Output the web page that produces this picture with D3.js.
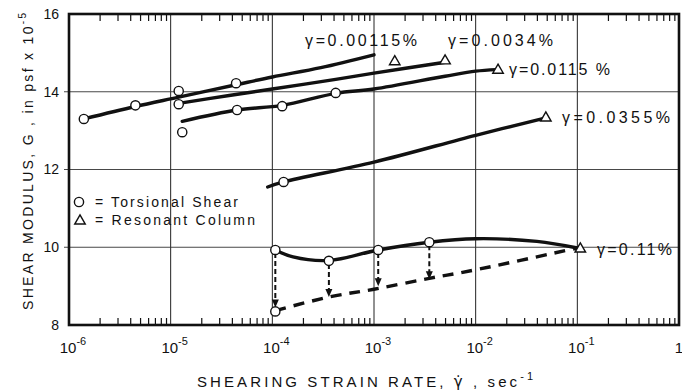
<!DOCTYPE html>
<html>
<head>
<meta charset="utf-8">
<script src="https://cdn.jsdelivr.net/npm/d3@7"></script>
<style>
  body { margin: 0; background: #fff; }
  svg { display: block; }
  text { font-family: "Liberation Sans", Arial, sans-serif; fill: #111; }
</style>
</head>
<body>
<div id="chart"></div>
<script>
// decade ticks on the strain-rate axis
var xTicks = [1e-6, 1e-5, 1e-4, 1e-3, 1e-2, 1e-1, 1];
var xTickExp = ["-6", "-5", "-4", "-3", "-2", "-1", ""];
var yTicks = [8, 10, 12, 14, 16];
var yGrid = [10, 12, 14];

// gamma = 0.00115 %
var curve1 = [[1.4e-6, 13.3], [4.5e-6, 13.62], [1.2e-5, 13.86], [4.4e-5, 14.18], [1e-4, 14.38], [3e-4, 14.62], [1e-3, 14.95]];
var torsion1 = [[1.4e-6, 13.3], [4.5e-6, 13.65], [1.2e-5, 14.02], [4.4e-5, 14.22]];
var resonant1 = [[1.6e-3, 14.8]];

// gamma = 0.0034 %
var curve2 = [[1.2e-5, 13.7], [3.9e-5, 13.91], [1e-4, 14.07], [4.2e-4, 14.32], [1e-3, 14.48], [5e-3, 14.76]];
var torsion2 = [[1.2e-5, 13.68]];
var resonant2 = [[5e-3, 14.82]];

// gamma = 0.0115 %
var curve3 = [[1.3e-5, 13.24], [4.5e-5, 13.53], [1.25e-4, 13.65], [4.2e-4, 13.96], [1e-3, 14.07], [5e-3, 14.4], [1e-2, 14.53], [1.6e-2, 14.57]];
var torsion3 = [[1.3e-5, 12.96], [4.5e-5, 13.53], [1.25e-4, 13.63], [4.2e-4, 13.97]];
var resonant3 = [[1.66e-2, 14.58]];

// gamma = 0.0355 %
var curve4 = [[9e-5, 11.55], [1.29e-4, 11.68], [1e-3, 12.19], [1e-2, 12.88], [4.9e-2, 13.33]];
var torsion4 = [[1.29e-4, 11.68]];
var resonant4 = [[4.9e-2, 13.35]];

// gamma = 0.11 %
var curve5 = [[1.07e-4, 9.93], [1.6e-4, 9.75], [3.6e-4, 9.66], [1.1e-3, 9.93], [3.5e-3, 10.13], [1e-2, 10.22], [4e-2, 10.15], [1e-1, 9.98]];
var torsion5 = [[1.07e-4, 9.93], [3.6e-4, 9.65], [1.1e-3, 9.93], [3.5e-3, 10.13], [1.07e-4, 8.35]];
var resonant5 = [[1.07e-1, 9.98]];
var dashed5 = [[1.07e-4, 8.37], [3.6e-4, 8.72], [1e-3, 8.92], [3.5e-3, 9.2], [1e-2, 9.42], [1e-1, 9.98]];
// vertical arrows: rate, from G, to G
var arrows5 = [[1.07e-4, 9.85, 8.45], [3.6e-4, 9.57, 8.72], [1.1e-3, 9.85, 9.0], [3.5e-3, 10.05, 9.18]];

var labels = [
  { text: "γ=0.00115%", x: 305, y: 46, w: 112 },
  { text: "γ=0.0034%", x: 448, y: 46, w: 105 },
  { text: "γ=0.0115 %", x: 509, y: 75, w: 101 },
  { text: "γ=0.0355%", x: 562, y: 123, w: 108 },
  { text: "γ=0.11%", x: 597, y: 255, w: 75 }
];

var width = 682, height = 390;
var svg = d3.select("#chart").append("svg")
  .attr("width", width)
  .attr("height", height);

var x = d3.scaleLog().domain([1e-6, 1]).range([69, 679]);
var y = d3.scaleLinear().domain([8, 16]).range([325, 14]);

// grid
svg.selectAll(".vgrid")
  .data(xTicks.slice(1, -1))
  .enter().append("line")
    .attr("x1", function(d) { return x(d); })
    .attr("x2", function(d) { return x(d); })
    .attr("y1", y(16)).attr("y2", y(8))
    .attr("stroke", "#222").attr("stroke-width", 1);

svg.selectAll(".hgrid")
  .data(yGrid)
  .enter().append("line")
    .attr("x1", x(1e-6) - 5).attr("x2", x(1) + 1)
    .attr("y1", function(d) { return y(d); })
    .attr("y2", function(d) { return y(d); })
    .attr("stroke", "#333").attr("stroke-width", 0.9);

// minor ticks top and bottom
var minor = [];
d3.range(-6, 0).forEach(function(p) {
  d3.range(2, 10).forEach(function(k) { minor.push(k * Math.pow(10, p)); });
});

svg.append("g")
  .attr("transform", "translate(0," + y(8) + ")")
  .call(d3.axisBottom(x).tickValues(minor).tickSize(-7).tickFormat(""))
  .call(function(g) { g.select(".domain").remove(); })
  .selectAll("line").attr("stroke", "#111").attr("stroke-width", 1.2);

svg.append("g")
  .attr("transform", "translate(0," + y(16) + ")")
  .call(d3.axisTop(x).tickValues(minor).tickSize(-7).tickFormat(""))
  .call(function(g) { g.select(".domain").remove(); })
  .selectAll("line").attr("stroke", "#111").attr("stroke-width", 1.2);

// frame
svg.append("rect")
  .attr("x", x(1e-6)).attr("y", y(16))
  .attr("width", x(1) - x(1e-6)).attr("height", y(8) - y(16))
  .attr("fill", "none").attr("stroke", "#111").attr("stroke-width", 2.6);

// y axis labels
svg.append("g")
  .attr("transform", "translate(" + x(1e-6) + ",0)")
  .call(d3.axisLeft(y).tickValues(yTicks).tickSize(0).tickPadding(10).tickFormat(d3.format("d")))
  .call(function(g) { g.select(".domain").remove(); })
  .selectAll("text")
    .attr("font-size", 14)
    .style("font-family", "Liberation Sans, sans-serif");

// x tick labels with superscript exponents
xTicks.forEach(function(d, i) {
  var t = svg.append("text")
    .attr("x", x(d) + (xTickExp[i] ? 4 : 0))
    .attr("y", 353)
    .attr("text-anchor", "middle")
    .attr("font-size", 15);
  if (xTickExp[i]) {
    t.append("tspan").text("10");
    t.append("tspan").attr("dy", -8).attr("font-size", 11).text(xTickExp[i]);
  } else {
    t.text("1");
  }
});

// axis titles
var xTitle = svg.append("text")
  .attr("x", 197).attr("y", 387)
  .attr("font-size", 15)
  .attr("textLength", 336).attr("lengthAdjust", "spacing");
xTitle.append("tspan").text("SHEARING STRAIN RATE, ");
xTitle.append("tspan").style("font-family", "DejaVu Sans, sans-serif").text("γ\u0307");
xTitle.append("tspan").text(" , sec");
xTitle.append("tspan").attr("dy", -7).attr("font-size", 11).text("-1");

var yTitle = svg.append("text")
  .attr("transform", "translate(33,310) rotate(-90)")
  .attr("x", 0).attr("y", 0)
  .attr("font-size", 14)
  .attr("textLength", 297).attr("lengthAdjust", "spacing");
yTitle.append("tspan").text("SHEAR MODULUS, G , in psf x 10");
yTitle.append("tspan").attr("dy", -7).attr("font-size", 10).text("-5");

// curves
var line = d3.line()
  .x(function(d) { return x(d[0]); })
  .y(function(d) { return y(d[1]); })
  .curve(d3.curveCatmullRom);

[curve1, curve2, curve3, curve4, curve5].forEach(function(c) {
  svg.append("path")
    .attr("d", line(c))
    .attr("fill", "none")
    .attr("stroke", "#111")
    .attr("stroke-width", 3.4)
    .attr("stroke-linecap", "round");
});

svg.append("path")
  .attr("d", line(dashed5))
  .attr("fill", "none")
  .attr("stroke", "#111")
  .attr("stroke-width", 3.4)
  .attr("stroke-dasharray", "11,8");

// dashed arrows
arrows5.forEach(function(a) {
  svg.append("line")
    .attr("x1", x(a[0])).attr("x2", x(a[0]))
    .attr("y1", y(a[1])).attr("y2", y(a[2]) - 6)
    .attr("stroke", "#111").attr("stroke-width", 2)
    .attr("stroke-dasharray", "5,3");
  var tx = x(a[0]), ty = y(a[2]);
  svg.append("path")
    .attr("d", "M" + (tx - 3.5) + "," + (ty - 8) + "L" + (tx + 3.5) + "," + (ty - 8) + "L" + tx + "," + ty + "Z")
    .attr("fill", "#111");
});

// markers
var circles = [].concat(torsion1, torsion2, torsion3, torsion4, torsion5);
svg.selectAll(".ts")
  .data(circles)
  .enter().append("circle")
    .attr("cx", function(d) { return x(d[0]); })
    .attr("cy", function(d) { return y(d[1]); })
    .attr("r", 4.6)
    .attr("fill", "#fff")
    .attr("stroke", "#111")
    .attr("stroke-width", 1.4);

var tri = d3.symbol().type(d3.symbolTriangle).size(48);
var triangles = [].concat(resonant1, resonant2, resonant3, resonant4, resonant5);
svg.selectAll(".rc")
  .data(triangles)
  .enter().append("path")
    .attr("d", tri)
    .attr("transform", function(d) { return "translate(" + x(d[0]) + "," + (y(d[1]) + 1) + ")"; })
    .attr("fill", "#fff")
    .attr("stroke", "#111")
    .attr("stroke-width", 1.4);

// strain labels
labels.forEach(function(l) {
  svg.append("text")
    .attr("x", l.x).attr("y", l.y)
    .attr("font-size", 16)
    .attr("textLength", l.w).attr("lengthAdjust", "spacing")
    .text(l.text);
});

// legend
svg.append("circle")
  .attr("cx", 79).attr("cy", 202).attr("r", 4.6)
  .attr("fill", "#fff").attr("stroke", "#111").attr("stroke-width", 1.4);
svg.append("path")
  .attr("d", tri)
  .attr("transform", "translate(80,221)")
  .attr("fill", "#fff").attr("stroke", "#111").attr("stroke-width", 1.4);
svg.append("text")
  .attr("x", 95).attr("y", 207).attr("font-size", 14)
  .attr("textLength", 143).attr("lengthAdjust", "spacing")
  .text("= Torsional Shear");
svg.append("text")
  .attr("x", 95).attr("y", 225).attr("font-size", 14)
  .attr("textLength", 160).attr("lengthAdjust", "spacing")
  .text("= Resonant Column");
</script>
</body>
</html>
